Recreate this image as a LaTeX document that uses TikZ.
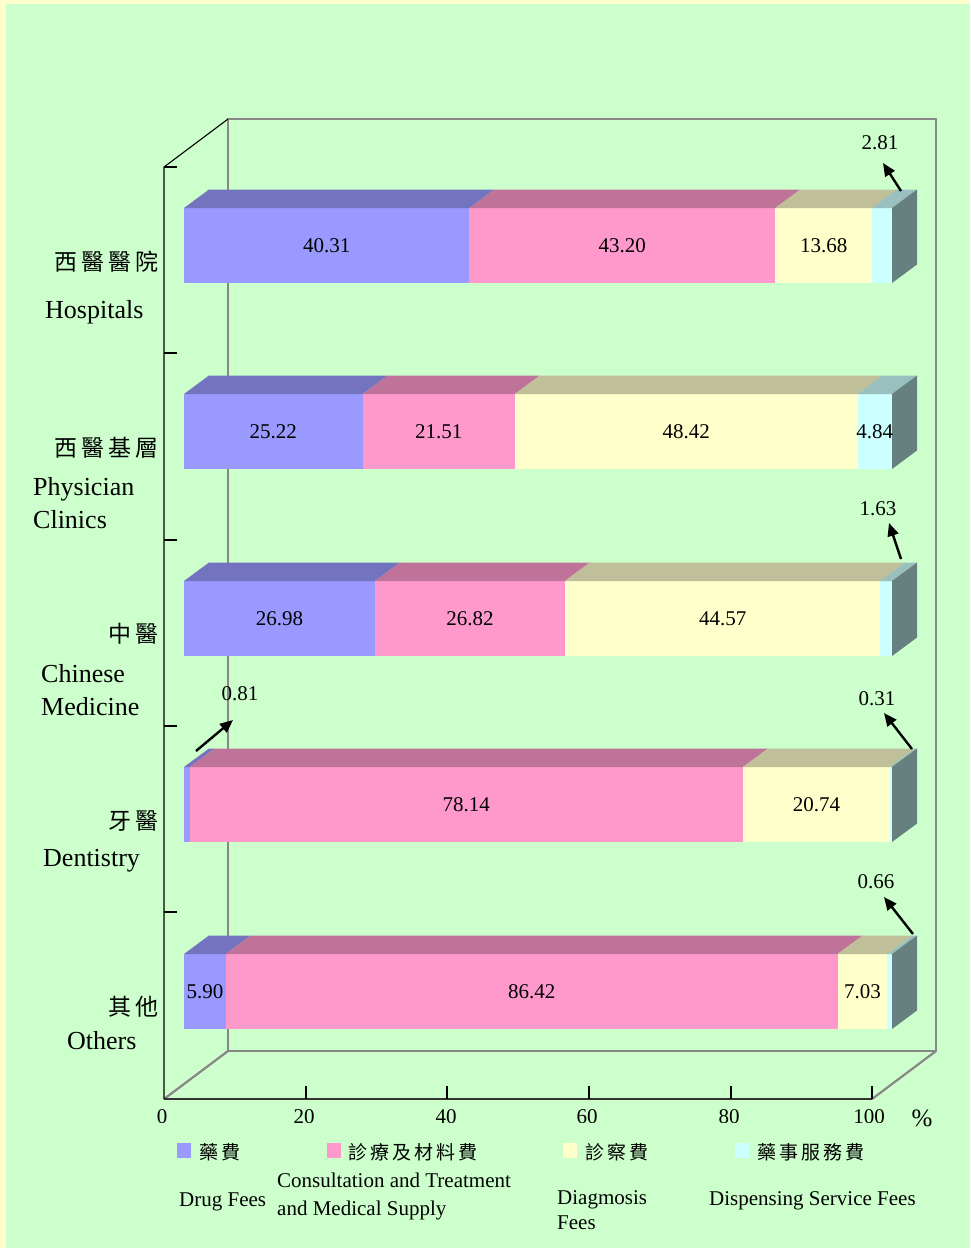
\documentclass[tikz,border=0pt]{standalone}
\usepackage{fontspec}
\setmainfont{Liberation Serif}
\newfontfamily\cjk{Noto Sans CJK TC}
\usetikzlibrary{arrows.meta}
\definecolor{bgyellow}{HTML}{FFFFCC}
\definecolor{bggreen}{HTML}{CCFFCC}
\definecolor{drugF}{HTML}{9999FF}\definecolor{drugT}{HTML}{7373BF}
\definecolor{consF}{HTML}{FF99CC}\definecolor{consT}{HTML}{BF7399}
\definecolor{diagF}{HTML}{FFFFCC}\definecolor{diagT}{HTML}{BFBF99}
\definecolor{dispF}{HTML}{CCFFFF}\definecolor{dispT}{HTML}{99BFBF}
\definecolor{sideC}{HTML}{668080}
\definecolor{wallC}{HTML}{878787}
\newcommand\chartbar[5]{%
  \pgfmathsetmacro\bxA{184}%
  \pgfmathsetmacro\bxB{184+7.08*#3}%
  \pgfmathsetmacro\bxC{\bxB+7.08*#4}%
  \pgfmathsetmacro\bxD{\bxC+7.08*#5}%
  \pgfmathsetmacro\bxE{892}%
  \pgfmathsetmacro\byB{#2+75}%
  \pgfmathsetmacro\byU{#2-18.5}%
  \pgfmathsetmacro\byM{#2+37.5}%
  \fill[drugF] (\bxA,#2) rectangle (\bxB,\byB);
  \fill[consF] (\bxB,#2) rectangle (\bxC,\byB);
  \fill[diagF] (\bxC,#2) rectangle (\bxD,\byB);
  \fill[dispF] (\bxD,#2) rectangle (\bxE,\byB);
  \fill[drugT] (\bxA,#2) -- (\bxA+25,\byU) -- (\bxB+25,\byU) -- (\bxB,#2) -- cycle;
  \fill[consT] (\bxB,#2) -- (\bxB+25,\byU) -- (\bxC+25,\byU) -- (\bxC,#2) -- cycle;
  \fill[diagT] (\bxC,#2) -- (\bxC+25,\byU) -- (\bxD+25,\byU) -- (\bxD,#2) -- cycle;
  \fill[dispT] (\bxD,#2) -- (\bxD+25,\byU) -- (\bxE+25,\byU) -- (\bxE,#2) -- cycle;
  \fill[sideC] (\bxE,#2) -- (\bxE+25,\byU) -- (\bxE+25,\byB-18.5) -- (\bxE,\byB) -- cycle;
  \coordinate (#1-1) at ({(\bxA+\bxB)/2},\byM);
  \coordinate (#1-2) at ({(\bxB+\bxC)/2},\byM);
  \coordinate (#1-3) at ({(\bxC+\bxD)/2},\byM);
  \coordinate (#1-4) at ({(\bxD+\bxE)/2},\byM);
}
\tikzset{
  val/.style={inner sep=0pt, font=\fontsize{21}{25}\selectfont},
  catzh/.style={inner sep=0pt, anchor=east, font=\fontsize{23}{27}\selectfont\cjk},
  caten/.style={inner sep=0pt, anchor=base west, font=\fontsize{26}{30}\selectfont},
  legzh/.style={inner sep=0pt, anchor=west, font=\fontsize{19}{23}\selectfont\cjk},
  legen/.style={inner sep=0pt, anchor=base west, font=\fontsize{21}{25}\selectfont},
  axnum/.style={inner sep=0pt, font=\fontsize{21}{25}\selectfont},
  arr/.style={line width=2.4pt, -{Triangle[length=13pt,width=11pt]}},
  wall/.style={draw=wallC, line width=2.2pt},
  thinax/.style={draw=black, line width=1.1pt},
}
\begin{document}
\begin{tikzpicture}[x=1pt,y=-1pt]
\useasboundingbox (0,0) rectangle (970,1248);
\fill[bgyellow] (0,0) rectangle (970,1248);
\fill[bggreen] (6,4) rectangle (970,1248);
% back wall and floor
\draw[wall] (228,1051) -- (228,119) -- (936,119) -- (936,1051) -- cycle;
\draw[wall] (164,1099) -- (228,1051);
\draw[wall] (872,1099) -- (936,1051);
\draw[draw=black!80, line width=2.6pt] (164,1099) -- (872,1099);
\draw[thinax] (164,1099) -- (164,167) -- (228,119);
\foreach \ty in {167,353,540,726,912} \draw[thinax] (164,\ty) -- (177,\ty);
\foreach \tx in {306,447,589,731,872} \draw[thinax] (\tx,1099) -- (\tx,1086);
% bars
\chartbar{h}{208}{40.31}{43.20}{13.68}
\chartbar{p}{394}{25.22}{21.51}{48.42}
\chartbar{c}{581}{26.98}{26.82}{44.57}
\chartbar{d}{767}{0.81}{78.14}{20.74}
\chartbar{o}{954}{5.90}{86.42}{7.03}
% values inside bars
\node[val] (hv1) at (h-1) {40.31};
\node[val] (hv2) at (h-2) {43.20};
\node[val] (hv3) at (h-3) {13.68};
\node[val] (pv1) at (p-1) {25.22};
\node[val] (pv2) at (p-2) {21.51};
\node[val] (pv3) at (p-3) {48.42};
\node[val] (pv4) at (p-4) {4.84};
\node[val] (cv1) at (c-1) {26.98};
\node[val] (cv2) at (c-2) {26.82};
\node[val] (cv3) at (c-3) {44.57};
\node[val] (dv2) at (d-2) {78.14};
\node[val] (dv3) at (d-3) {20.74};
\node[val] (ov1) at (o-1) {5.90};
\node[val] (ov2) at (o-2) {86.42};
\node[val] (ov3) at (o-3) {7.03};
% values outside with arrows
\node[val] (hv4) at (880,143) {2.81};
\node[val] (cv4) at (878,509) {1.63};
\node[val] (dv1) at (240,694) {0.81};
\node[val] (dv4) at (877,699) {0.31};
\node[val] (ov4) at (876,882) {0.66};
\coordinate (hs) at (901,191); \coordinate (he) at (883,163);
\coordinate (cs) at (901,559); \coordinate (ce) at (889,523);
\coordinate (ds1) at (196,751); \coordinate (de1) at (233,720);
\coordinate (ds4) at (912,749); \coordinate (de4) at (884,713);
\coordinate (os) at (913,934); \coordinate (oe) at (884,897);
\draw[arr] (hs) -- (he);
\draw[arr] (cs) -- (ce);
\draw[arr] (ds1) -- (de1);
\draw[arr] (ds4) -- (de4);
\draw[arr] (os) -- (oe);
% category labels
\node[catzh] (k1) at (159,262) {西\kern4pt 醫\kern4pt 醫\kern4pt 院};
\node[caten] (e1) at (45,318) {Hospitals};
\node[catzh] (k2) at (159,448) {西\kern4pt 醫\kern4pt 基\kern4pt 層};
\node[caten] (e2a) at (33,495) {Physician};
\node[caten] (e2b) at (33,528) {Clinics};
\node[catzh] (k3) at (159,634) {中\kern4pt 醫};
\node[caten] (e3a) at (41,682) {Chinese};
\node[caten] (e3b) at (41,715) {Medicine};
\node[catzh] (k4) at (159,821) {牙\kern4pt 醫};
\node[caten] (e4) at (43,866) {Dentistry};
\node[catzh] (k5) at (159,1007) {其\kern4pt 他};
\node[caten] (e5) at (67,1049) {Others};
% axis numbers
\begin{scope}
\clip (100,1100) rectangle (900,1122.5);
\node[axnum] (x0) at (162,1117) {0};
\node[axnum] (x20) at (304,1117) {20};
\node[axnum] (x40) at (446,1117) {40};
\node[axnum] (x60) at (587,1117) {60};
\node[axnum] (x80) at (729,1117) {80};
\node[axnum] (x100) at (869,1117) {100};
\end{scope}
\node[inner sep=0pt, font=\fontsize{25}{29}\selectfont] (pct) at (922,1118) {\%};
% legend
\fill[drugF] (177,1143) rectangle (191,1158);
\fill[consF] (327,1143) rectangle (341,1158);
\fill[diagF] (563,1143) rectangle (577,1158);
\fill[dispF] (735,1143) rectangle (749,1158);
\node[legzh] (lz1) at (199,1152) {藥\kern3pt 費};
\node[legzh] (lz2) at (348,1152) {診\kern3pt 療\kern3pt 及\kern3pt 材\kern3pt 料\kern3pt 費};
\node[legzh] (lz3) at (585,1152) {診\kern3pt 察\kern3pt 費};
\node[legzh] (lz4) at (757,1152) {藥\kern3pt 事\kern3pt 服\kern3pt 務\kern3pt 費};
\node[legen] (le1) at (179,1206) {Drug Fees};
\node[legen] (le2a) at (277,1187) {Consultation and Treatment};
\node[legen] (le2b) at (277,1215) {and Medical Supply};
\node[legen] (le3a) at (557,1204) {Diagmosis};
\node[legen] (le3b) at (557,1229) {Fees};
\node[legen] (le4) at (709,1205) {Dispensing Service Fees};
\end{tikzpicture}
\end{document}
